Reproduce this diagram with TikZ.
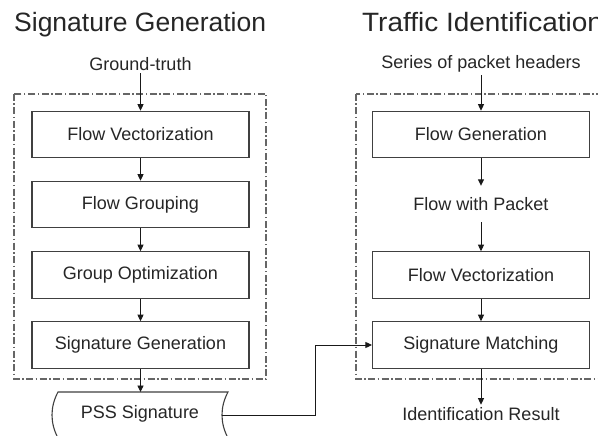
\documentclass[tikz,border=0pt]{standalone}
\usepackage{graphicx}
\usepackage{fontspec}
\setmainfont{Liberation Sans}
\usetikzlibrary{arrows.meta,calc}
\begin{document}
\begin{tikzpicture}[x=1pt,y=-1pt,
 proc/.style={draw=black!75,line width=1.1pt,minimum width=217pt,minimum height=46.5pt,inner sep=0pt,font=\fontsize{18}{21}\selectfont,text=black!85},
 lbl/.style={font=\fontsize{18}{21}\selectfont,text=black!85,inner sep=2.5pt},
 ttl/.style={font=\fontsize{26.5}{30}\selectfont,text=black!85,anchor=base west,inner sep=0pt},
 grp/.style={draw=black!60,line width=1.1pt,dash pattern=on 7pt off 2.5pt on 1.5pt off 2.5pt},
 arr/.style={draw=black!90,line width=0.9pt,-{Triangle[length=6.5pt,width=6pt]}}]
\clip (0,0) rectangle (598,436);
\fill[white] (0,0) rectangle (598,436);
% titles
\node[ttl] (t1) at (14,32) {Signature Generation};
\node[ttl] (t2) at (362,32) {\scalebox{1.055}[1]{Traffic Identification}};
% group frames
\draw[grp] (14,94) rectangle (266,379);
\draw[grp] (356,94) rectangle (640,379);
% left column
\node[lbl] (gt) at (140.5,64) {Ground-truth};
\node[proc] (fv1) at (140.5,134.5) {Flow Vectorization};
\node[proc] (fg) at (140.5,204.5) {Flow Grouping};
\node[proc] (go) at (140.5,275) {Group Optimization};
\node[proc] (sg) at (140.5,345) {Signature Generation};
\node[lbl] (pss) at (140,414) {PSS Signature};
\draw[draw=black!75,line width=1.1pt] (58,392) -- (228,392) .. controls (220,407) and (220,423) .. (228,438) -- (58,438) .. controls (50,423) and (50,407) .. (58,392) -- cycle;
\coordinate (pssout) at (222,415);
% right column
\node[lbl] (sph) at (481,64) {Series of packet headers};
\node[proc] (fgen) at (481,134.5) {Flow Generation};
\node[lbl,minimum height=36pt,inner sep=0pt] (fwp) at (481,204) {Flow with Packet};
\node[proc] (fv2) at (481,275) {Flow Vectorization};
\node[proc] (sm) at (481,345) {Signature Matching};
\node[lbl] (res) at (481,414) {Identification Result};
% connectors
\draw[arr] (gt) -- (fv1);
\draw[arr] (fv1) -- (fg);
\draw[arr] (fg) -- (go);
\draw[arr] (go) -- (sg);
\draw[arr] (sg.south) -- (140.5,392);
\draw[arr] (sph) -- (fgen);
\draw[arr] (fgen) -- (fwp);
\draw[arr] (fwp) -- (fv2);
\draw[arr] (fv2) -- (sm);
\draw[arr] (sm) -- (res);
\draw[arr] (pssout) -- (315,415) |- (sm.west);
\end{tikzpicture}
\end{document}
